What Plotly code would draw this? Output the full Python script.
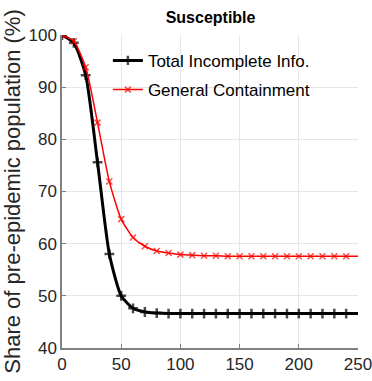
import plotly.graph_objects as go

days = [0, 10, 20, 30, 40, 50, 60, 70, 80, 90, 100, 110, 120, 130, 140, 150, 160, 170, 180, 190, 200, 210, 220, 230, 240, 250]
total_incomplete = [100, 98.5, 92.3, 75.6, 58.0, 50.0, 47.6, 46.9, 46.7, 46.6, 46.6, 46.6, 46.6, 46.6, 46.6, 46.6, 46.6, 46.6, 46.6, 46.6, 46.6, 46.6, 46.6, 46.6, 46.6, 46.6]
general_containment = [100, 98.8, 93.8, 83.2, 71.9, 64.7, 61.2, 59.5, 58.6, 58.2, 57.9, 57.8, 57.7, 57.7, 57.6, 57.6, 57.6, 57.6, 57.6, 57.6, 57.6, 57.6, 57.6, 57.6, 57.6, 57.6]
series_names = ["Total Incomplete Info.", "General Containment"]
x_ticks = [0, 50, 100, 150, 200, 250]
y_ticks = [40, 50, 60, 70, 80, 90, 100]

marker_sizes = [7] * (len(days) - 1) + [0]
red_sizes = [6] * (len(days) - 1) + [0]

fig = go.Figure()
fig.add_trace(go.Scatter(
    x=days, y=total_incomplete, name=series_names[0], mode="lines+markers", legendgroup="a",
    line=dict(color="black", width=3, shape="spline", smoothing=0.6),
    marker=dict(symbol="cross-thin", size=marker_sizes, line=dict(color="black", width=2.5)),
))
fig.add_trace(go.Scatter(
    x=days, y=general_containment, name=series_names[1], mode="lines+markers", legendgroup="b",
    line=dict(color="#ff0000", width=1.5, shape="spline", smoothing=0.6),
    marker=dict(symbol="x-thin", size=red_sizes, line=dict(color="#ff0000", width=1.5)),
))

base = "Liberation Sans, Arial"
fig.update_layout(
    width=372, height=381,
    margin=dict(l=62, r=14, t=35, b=33, autoexpand=False),
    paper_bgcolor="white", plot_bgcolor="white",
    title=dict(text="<b>Susceptible</b>", x=0.566, xanchor="center", y=0.955, yanchor="middle",
               font=dict(family=base, size=16, color="black")),
    legend=dict(x=0.155, y=0.975, xanchor="left", yanchor="top", bgcolor="rgba(0,0,0,0)",
                font=dict(family=base, size=17, color="black"), traceorder="grouped", tracegroupgap=4),
    font=dict(family=base, color="#262626"),
)
fig.update_xaxes(range=[0, 250], tickvals=x_ticks, showgrid=True, gridcolor="#e6e6e6", gridwidth=1,
                 showline=True, linecolor="#808080", linewidth=1.5, ticks="inside", ticklen=4, tickcolor="#808080",
                 tickfont=dict(family=base, size=17, color="#262626"), zeroline=False, automargin=False,
                 ticklabeloverflow="allow")
fig.update_yaxes(range=[40, 100], tickvals=y_ticks, showgrid=True, gridcolor="#e6e6e6", gridwidth=1,
                 showline=True, linecolor="#808080", linewidth=1.5, ticks="inside", ticklen=4, tickcolor="#808080",
                 tickfont=dict(family=base, size=17, color="#262626"), zeroline=False, automargin=False,
                 ticklabeloverflow="allow",
                 title=dict(text="Share of pre-epidemic population (%)", standoff=5,
                            font=dict(family=base, size=22, color="#262626")))
fig.write_html("out.html")
